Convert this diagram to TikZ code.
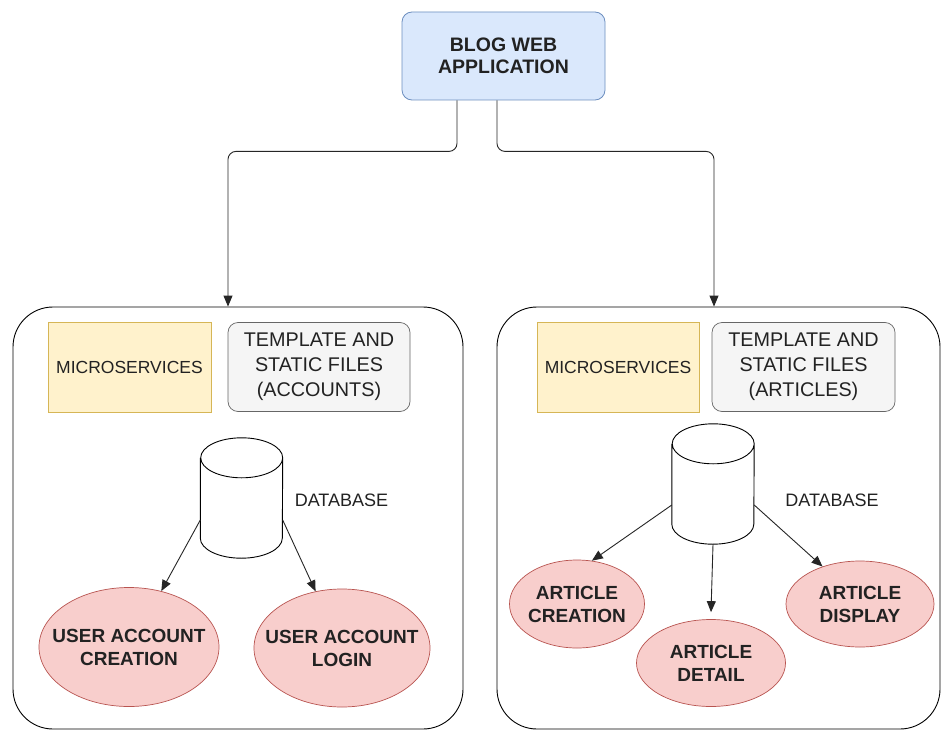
\documentclass[tikz,border=0pt]{standalone}
\usepackage{fontspec}
\setmainfont{Liberation Sans}
\usetikzlibrary{shapes.geometric,arrows.meta}
\definecolor{topfill}{HTML}{DAE8FC}
\definecolor{topdraw}{HTML}{6C8EBF}
\definecolor{msfill}{HTML}{FFF2CC}
\definecolor{msdraw}{HTML}{D6B656}
\definecolor{tpfill}{HTML}{F5F5F5}
\definecolor{tpdraw}{HTML}{666666}
\definecolor{elfill}{HTML}{F8CECC}
\definecolor{eldraw}{HTML}{B85450}
\definecolor{txt}{HTML}{222222}
\tikzset{
  topbox/.style={draw=topdraw, fill=topfill, rounded corners=10pt, line width=0.8pt,
    minimum width=203pt, minimum height=88pt, align=center, inner sep=0pt,
    font=\fontsize{19.5}{22}\selectfont\bfseries, text=txt},
  bigbox/.style={draw=black, rounded corners=40pt, line width=0.9pt, inner sep=0pt},
  msbox/.style={draw=msdraw, fill=msfill, line width=0.7pt, minimum height=90pt,
    inner sep=0pt, font=\fontsize{17.5}{20}\selectfont, text=txt},
  tpbox/.style={draw=tpdraw, fill=tpfill, rounded corners=10pt, line width=0.7pt,
    minimum height=89pt, inner sep=0pt, align=center,
    font=\fontsize{19.8}{25}\selectfont, text=txt},
  dbframe/.style={draw=none, minimum width=82pt, minimum height=120pt, inner sep=0pt},
  cylline/.style={draw=black, fill=white, line width=0.9pt},
  dblabel/.style={font=\fontsize{18}{20}\selectfont, text=txt, inner sep=0pt},
  oval/.style={ellipse, draw=eldraw, fill=elfill, line width=0.7pt, inner xsep=-30pt,
    inner ysep=0pt, align=center, font=\fontsize{19}{23}\selectfont\bfseries, text=txt},
  conn/.style={draw=black!85, line width=0.9pt, -{Triangle[length=11pt,width=9pt]}}
}
\newcommand{\dbcylinder}[1]{%
  \draw[cylline] ([yshift=-20pt]#1.north west) -- ([yshift=20pt]#1.south west)
    arc[start angle=180,end angle=360,x radius=41pt,y radius=20pt]
    -- ([yshift=-20pt]#1.north east)
    arc[start angle=0,end angle=180,x radius=41pt,y radius=20pt]
    arc[start angle=180,end angle=360,x radius=41pt,y radius=20pt];}
\begin{document}
\begin{tikzpicture}[x=1pt,y=-1pt]
\useasboundingbox (0,0) rectangle (944,733);
\fill[white] (0,0) rectangle (944,733);

\node[topbox] (top) at (503.5,56) {BLOG WEB\\APPLICATION};

% big containers
\node[bigbox, minimum width=450pt, minimum height=422pt] (lbox) at (238,518) {};
\node[bigbox, minimum width=443pt, minimum height=422pt] (rbox) at (718.5,518) {};

% connectors from top
\draw[conn, rounded corners=8pt] ([xshift=-46.5pt]top.south) -- ++(0,51) -| ([xshift=-10pt]lbox.north);
\draw[conn, rounded corners=8pt] ([xshift=-6.5pt]top.south) -- ++(0,51) -| ([xshift=-4.5pt]rbox.north);

% left container contents
\node[msbox, minimum width=163pt] (ms1) at (129.5,367) {MICROSERVICES};
\node[tpbox, minimum width=182pt] (tp1) at (319,367) {TEMPLATE AND\\STATIC FILES\\(ACCOUNTS)};
\node[dbframe] (db1) at (241.5,498) {};
\dbcylinder{db1}
\node[dblabel] (dbl1) at (341.5,500) {DATABASE};
\node[oval, minimum width=180pt, minimum height=119pt] (uc) at (129,647) {USER ACCOUNT\\CREATION};
\node[oval, minimum width=176pt, minimum height=118pt] (ul) at (342,648) {USER ACCOUNT\\LOGIN};
\draw[conn] ([yshift=-22pt]db1.west) -- (uc.60);
\draw[conn] ([yshift=-22pt]db1.east) -- (ul.115);

% right container contents
\node[msbox, minimum width=162pt] (ms2) at (618,367) {MICROSERVICES};
\node[tpbox, minimum width=183pt] (tp2) at (803.5,367) {TEMPLATE AND\\STATIC FILES\\(ARTICLES)};
\node[dbframe] (db2) at (713,484) {};
\dbcylinder{db2}
\node[dblabel] (dbl2) at (832,500) {DATABASE};
\node[oval, minimum width=135pt, minimum height=88pt] (ac) at (577,604) {ARTICLE\\CREATION};
\node[oval, minimum width=149pt, minimum height=87pt] (adt) at (711,663) {ARTICLE\\DETAIL};
\node[oval, minimum width=148pt, minimum height=86pt] (adp) at (860,604) {ARTICLE\\DISPLAY};
\draw[conn] ([yshift=-21pt]db2.west) -- (ac.71);
\draw[conn] (db2.south) -- ([yshift=7pt]adt.north);
\draw[conn] ([yshift=-21pt]db2.east) -- (adp.135);
\end{tikzpicture}
\end{document}
